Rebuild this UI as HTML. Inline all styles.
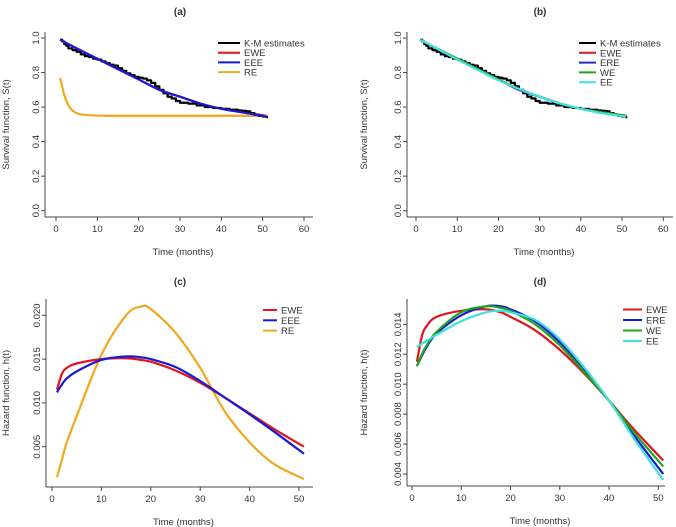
<!DOCTYPE html>
<html><head><meta charset="utf-8"><style>
body{margin:0;background:#fff;}
svg{display:block;font-family:"Liberation Sans",sans-serif;}
</style></head><body>
<svg id="c" width="676" height="527" viewBox="0 0 676 527"></svg>
<script>
const kmT=[1,1.5,2,2.5,3,4,5,6,7,8,9,10,11,12,13,14,15,16,17,18,19,20,21,22,23,24,25,26,27,28,29,30,32,34,36,38,40,42,44,45,46,47,48,49,50,51];
const kmS=[0.99,0.98,0.965,0.955,0.94,0.93,0.92,0.905,0.895,0.89,0.88,0.875,0.865,0.855,0.845,0.84,0.825,0.81,0.795,0.785,0.775,0.77,0.765,0.755,0.74,0.72,0.70,0.68,0.66,0.65,0.635,0.625,0.62,0.61,0.60,0.595,0.59,0.585,0.58,0.578,0.575,0.565,0.555,0.55,0.545,0.535];
const survT=[1,5,10,15,20,25,30,35,40,45,51];
const survEWE=[0.99,0.94,0.88,0.82,0.76,0.70,0.66,0.62,0.59,0.57,0.55];
const survEEE=[0.99,0.94,0.88,0.82,0.76,0.70,0.66,0.62,0.59,0.57,0.545];
const survWE=[0.99,0.94,0.88,0.82,0.76,0.705,0.66,0.62,0.59,0.57,0.55];
const survEE=[0.99,0.94,0.875,0.815,0.755,0.705,0.66,0.62,0.59,0.565,0.545];
const reT=[1,2,3,4,5,6,8,12,20,30,40,51];
const reS=[0.77,0.67,0.61,0.58,0.565,0.558,0.553,0.55,0.55,0.55,0.55,0.55];
const hT=[1,2,3,5,10,15,18,20,25,30,35,40,45,51];
const hEWE=[0.0115,0.0133,0.0140,0.0145,0.0150,0.0151,0.0149,0.0147,0.0137,0.0123,0.0106,0.0088,0.0070,0.0050];
const hEEE=[0.0112,0.0121,0.0128,0.0136,0.0149,0.0153,0.0152,0.0150,0.0141,0.0125,0.0106,0.0087,0.0067,0.0042];
const hRE=[0.0015,0.0035,0.0055,0.0085,0.0155,0.0200,0.0210,0.0207,0.0180,0.0140,0.0090,0.0055,0.0030,0.0013];
const dEWE=[0.0115,0.0132,0.0139,0.0145,0.0149,0.0150,0.0148,0.0145,0.0136,0.0123,0.0107,0.0089,0.0070,0.0049];
const dERE=[0.0112,0.0119,0.0125,0.0134,0.0146,0.0152,0.0152,0.0150,0.0142,0.0128,0.0109,0.0089,0.0066,0.0040];
const dWE=[0.0112,0.0120,0.0126,0.0135,0.0148,0.0152,0.0151,0.0149,0.0140,0.0126,0.0108,0.0089,0.0068,0.0045];
const dEE=[0.0125,0.0127,0.0129,0.0133,0.0142,0.0148,0.0149,0.0148,0.0143,0.0130,0.0111,0.0089,0.0064,0.0036];
const xTicksTop=[0,10,20,30,40,50,60];
const xTicksBot=[0,10,20,30,40,50];
const yTicksS=[0,0.2,0.4,0.6,0.8,1.0];
const yTicksC=[0.005,0.010,0.015,0.020];
const yTicksD=[0.004,0.006,0.008,0.010,0.012,0.014];

const NS='http://www.w3.org/2000/svg';
const svg=document.getElementById('c');
function mk(tag,attrs,parent){const e=document.createElementNS(NS,tag);for(const k in attrs)e.setAttribute(k,attrs[k]);(parent||svg).appendChild(e);return e;}
function txt(x,y,s,opts,parent){const e=mk('text',Object.assign({x:x,y:y,'font-size':9.5,fill:'#333','text-anchor':'middle'},opts||{}),parent);e.textContent=s;return e;}
function smooth(P){
  let d=`M${P[0][0]},${P[0][1]}`;
  for(let i=0;i<P.length-1;i++){
    const p0=P[Math.max(0,i-1)],p1=P[i],p2=P[i+1],p3=P[Math.min(P.length-1,i+2)];
    const c1=[p1[0]+(p2[0]-p0[0])/6,p1[1]+(p2[1]-p0[1])/6];
    const c2=[p2[0]-(p3[0]-p1[0])/6,p2[1]-(p3[1]-p1[1])/6];
    d+=`C${c1[0]},${c1[1]} ${c2[0]},${c2[1]} ${p2[0]},${p2[1]}`;
  }
  return d;
}
function panel(p){
  const g=mk('g',{});
  
  
  const sx=v=>p.x0+(v-p.xa)/(p.xb-p.xa)*(p.px1-p.x0);
  const sy=v=>p.y0+(v-p.ya)/(p.yb-p.ya)*(p.py1-p.y0);
  mk('line',{x1:p.axX,y1:p.axTop,x2:p.axX,y2:p.axY,stroke:'#444','stroke-width':1},g);
  mk('line',{x1:p.axX,y1:p.axY,x2:p.axRight,y2:p.axY,stroke:'#444','stroke-width':1},g);
  p.xt.forEach(v=>{mk('line',{x1:sx(v),y1:p.axY,x2:sx(v),y2:p.axY+4,stroke:'#444'},g);
    const t=txt(sx(v),p.axY+15,String(v),{},g);});
  p.yt.forEach(v=>{mk('line',{x1:p.axX-4,y1:sy(v),x2:p.axX,y2:sy(v),stroke:'#444'},g);
    const t=txt(p.axX-9,sy(v)+3,v.toFixed(p.dec),{transform:`rotate(-90 ${p.axX-9} ${sy(v)})`},g);});
  const tt=txt(p.tx,p.ty,p.title,{'font-weight':'bold','font-size':10},g);
  
  const xl=txt((p.axX+p.axRight)/2+4,p.axY+38,'Time (months)',{},g);
  
  const yc=(p.axTop+p.axY)/2;
  const yl=txt(p.ylx,yc,p.ylab,{transform:`rotate(-90 ${p.ylx} ${yc})`},g);
  
  p.series.forEach(s=>{
    let d='';
    if(s.step){s.t.forEach((t,i)=>{d+=(i?`H${sx(t)}V${sy(s.v[i])}`:`M${sx(t)},${sy(s.v[i])}`);});}
    else d=smooth(s.t.map((t,i)=>[sx(t),sy(s.v[i])]));
    const pa=mk('path',{d:d,fill:'none',stroke:s.c,'stroke-width':2.2,'stroke-linejoin':'round'},g);
    
    
  });
  p.leg.forEach((s,i)=>{const y=p.ly+i*p.ldy;
    mk('line',{x1:p.lx,y1:y,x2:p.lx+p.lw,y2:y,stroke:s.c,'stroke-width':2},g);
    const t=txt(p.lx+p.lw+4,y+3.5,s.n,{'text-anchor':'start','font-size':9.5},g);
    });
}
const K={n:'K-M estimates',c:'#000'},R={n:'EWE',c:'#e0141c'},B={c:'#1a1ad6'},O={n:'RE',c:'#f0a81c'},G={n:'WE',c:'#1aa81a'},C={n:'EE',c:'#3ee0e0'};
panel({id:'a',title:'(a)',tx:180,ty:15,x0:56,px1:304,xa:0,xb:60,y0:210.7,py1:38,ya:0,yb:1,axX:45,axTop:32,axY:217,axRight:313,xt:xTicksTop,yt:yTicksS,dec:1,ylx:9,ylab:'Survival function, S(t)',
 series:[{t:survT,v:survEWE,c:R.c,n:'EWE'},{t:reT,v:reS,c:O.c,n:'RE'},{t:kmT,v:kmS,c:'#000',n:'KM',step:1},{t:survT,v:survEEE,c:B.c,n:'EEE'}],
 leg:[K,R,{n:'EEE',c:B.c},O],lx:218,lw:22,ly:43,ldy:9.7});
panel({id:'b',title:'(b)',tx:540,ty:15,x0:416,px1:663.3,xa:0,xb:60,y0:210.7,py1:38,ya:0,yb:1,axX:407,axTop:32,axY:217,axRight:673,xt:xTicksTop,yt:yTicksS,dec:1,ylx:367,ylab:'Survival function, S(t)',
 series:[{t:kmT,v:kmS,c:'#000',n:'KM',step:1},{t:survT,v:survEWE,c:R.c,n:'EWE'},{t:survT,v:survEEE,c:'#2a2ac0',n:'ERE'},{t:survT,v:survWE,c:G.c,n:'WE'},{t:survT,v:survEE,c:C.c,n:'EE'}],
 leg:[K,R,{n:'ERE',c:'#2a2ac0'},G,C],lx:579,lw:17,ly:43,ldy:9.8});
panel({id:'c',title:'(c)',tx:180,ty:285,x0:52,px1:299,xa:0,xb:50,y0:446.7,py1:315.3,ya:0.005,yb:0.020,axX:46,axTop:299,axY:487,axRight:313,xt:xTicksBot,yt:yTicksC,dec:3,ylx:9,ylab:'Hazard function, h(t)',
 series:[{t:hT,v:hRE,c:O.c,n:'RE'},{t:hT,v:hEWE,c:R.c,n:'EWE'},{t:hT,v:hEEE,c:B.c,n:'EEE'}],
 leg:[R,{n:'EEE',c:B.c},O],lx:263,lw:14,ly:310,ldy:10.3});
panel({id:'d',title:'(d)',tx:540,ty:285,x0:412,px1:658.3,xa:0,xb:50,y0:474,py1:324.3,ya:0.004,yb:0.014,axX:407,axTop:299,axY:486,axRight:665,xt:xTicksBot,yt:yTicksD,dec:3,ylx:367,ylab:'Hazard function, h(t)',
 series:[{t:hT,v:dEWE,c:R.c,n:'EWE'},{t:hT,v:dERE,c:B.c,n:'ERE'},{t:hT,v:dWE,c:G.c,n:'WE'},{t:hT,v:dEE,c:C.c,n:'EE'}],
 leg:[R,{n:'ERE',c:B.c},G,C],lx:623,lw:19,ly:309.5,ldy:10.5});
</script>
</body></html>
